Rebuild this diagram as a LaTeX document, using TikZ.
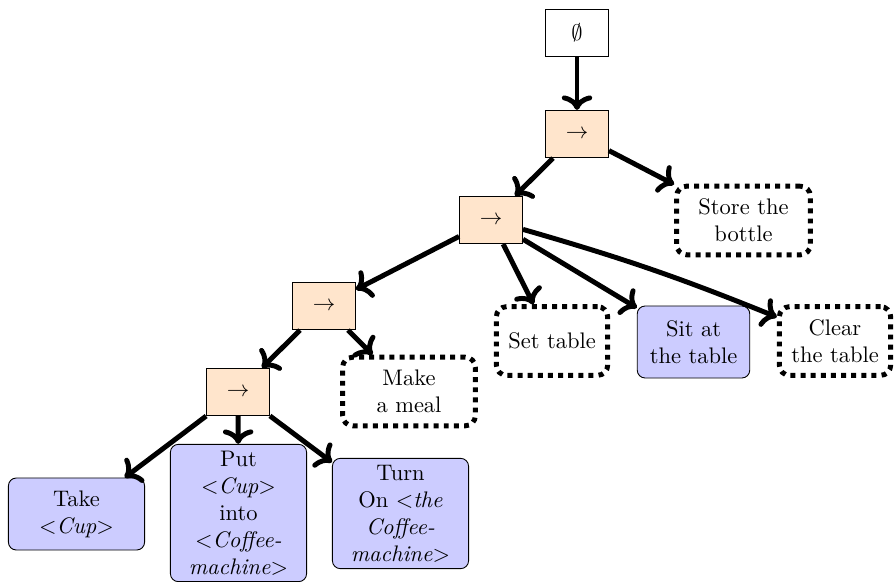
\documentclass[tikz,border=0pt]{standalone}
\usetikzlibrary{arrows.meta}
\begin{document}
\begin{tikzpicture}[x=0.4444pt,y=-0.4444pt,
  rootbox/.style={draw,fill=white,minimum width=28pt,minimum height=21pt,inner sep=0pt},
  ctrl/.style={draw,fill=orange!20,minimum width=28pt,minimum height=21pt,inner sep=0pt},
  action/.style={draw,fill=blue!20,rounded corners=3.5pt,align=center,inner sep=1pt,
    minimum width=60.5pt},
  pending/.style={draw,line width=2.2pt,dash pattern=on 2.2pt off 2.3pt,
    rounded corners=4.5pt,align=center,inner sep=1pt,minimum height=30.5pt},
  link/.style={line width=2.2pt,->}
]
\useasboundingbox (0,0) rectangle (896,582);

% control-flow nodes
\node[rootbox] (root) at (577,33) {$\emptyset$};
\node[ctrl] (s1) at (577,134) {$\rightarrow$};
\node[ctrl] (s2) at (491,220) {$\rightarrow$};
\node[ctrl] (s3) at (324,306) {$\rightarrow$};
\node[ctrl] (s4) at (238,392) {$\rightarrow$};

% tasks still to be expanded
\node[pending,minimum width=59.5pt] (store) at (743.5,220.5) {Store the\\bottle};
\node[pending,minimum width=49.5pt] (set) at (552,341) {Set table};
\node[pending,minimum width=49.5pt] (clear) at (835,341) {Clear\\the table};
\node[pending,minimum width=59pt] (meal) at (409,391.5) {Make\\a meal};

% primitive actions
\node[action,minimum width=50pt,minimum height=32pt] (sit) at (693.5,342) {Sit at\\the table};
\node[action,minimum height=32pt] (take) at (76.5,514) {Take\\$<$\textit{Cup}$>$};
\node[action,minimum height=61pt] (put) at (238.5,513) {Put\\$<$\textit{Cup}$>$\\into\\$<$\textit{Coffee-}\\\textit{machine}$>$};
\node[action,minimum height=49pt] (turn) at (400.5,513.5) {Turn\\On $<$\textit{the}\\\textit{Coffee-}\\\textit{machine}$>$};

% connectors
\draw[link] (root) -- (s1);
\draw[link] (s1) -- (s2);
\draw[link] (s1) -- (store);
\draw[link] (s2) -- (s3);
\draw[link] (s2) -- (set);
\draw[link] (s2) -- (sit);
\draw[link] (s2) to[bend left=3] (clear);
\draw[link] (s3) -- (s4);
\draw[link] (s3) -- (meal);
\draw[link] (s4) -- (take);
\draw[link] (s4) -- (put);
\draw[link] (s4) -- (turn);
\end{tikzpicture}
\end{document}
